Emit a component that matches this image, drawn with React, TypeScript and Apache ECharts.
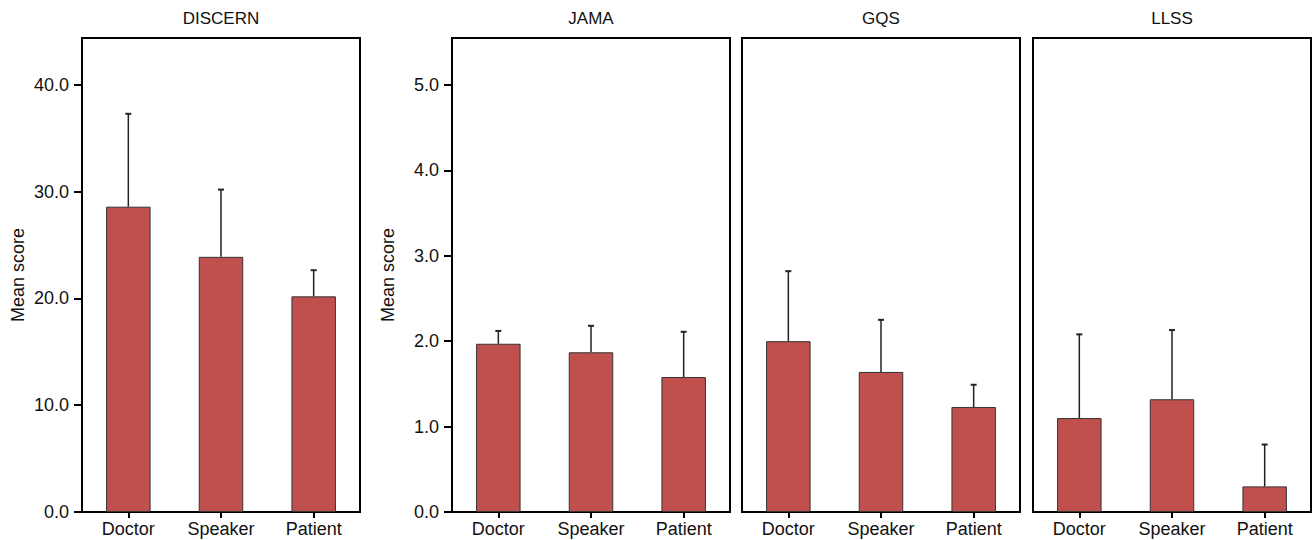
import React, { useEffect, useRef } from "react";
import * as echarts from "echarts";

const categories = ["Doctor", "Speaker", "Patient"];
const panelTitles = ["DISCERN", "JAMA", "GQS", "LLSS"];

const discernMean = [28.6, 23.9, 20.2];
const discernSd = [8.7, 6.3, 2.45];
const jamaMean = [1.97, 1.87, 1.58];
const jamaSd = [0.15, 0.31, 0.53];
const gqsMean = [2.0, 1.64, 1.23];
const gqsSd = [0.82, 0.61, 0.26];
const llssMean = [1.1, 1.32, 0.3];
const llssSd = [0.98, 0.81, 0.49];

const discernTicks = [0, 10, 20, 30, 40];
const smallTicks = [0, 1, 2, 3, 4, 5];

const FONT = "'Liberation Sans', Arial, Helvetica, sans-serif";
const FS = 18;

export default function App() {
  const ref = useRef<HTMLDivElement>(null);

  useEffect(() => {
    if (!ref.current) return;
    const chart = echarts.init(ref.current, undefined, { renderer: "svg" });

    const means = [discernMean, jamaMean, gqsMean, llssMean];
    const sds = [discernSd, jamaSd, gqsSd, llssSd];
    const lefts = [82, 452, 742, 1033];
    const W = 278;

    const grids = lefts.map((l) => ({
      left: l,
      top: 38,
      width: W,
      height: 474,
      show: true,
      borderColor: "#000",
      borderWidth: 2,
      backgroundColor: "transparent",
    }));

    const xAxes = lefts.map((_, i) => ({
      type: "category",
      gridIndex: i,
      data: categories,
      axisLine: { show: true, lineStyle: { color: "#000", width: 2 } },
      axisTick: { show: true, alignWithLabel: true, length: 6, lineStyle: { color: "#000", width: 2 } },
      axisLabel: { fontSize: FS, color: "#111", margin: 8, fontFamily: FONT },
      splitLine: { show: false },
    }));

    const yAxes = lefts.map((_, i) => {
      const isDiscern = i === 0;
      const ticks = isDiscern ? discernTicks : smallTicks;
      const showLabels = i <= 1;
      return {
        type: "value",
        gridIndex: i,
        min: 0,
        max: isDiscern ? 44.4 : 5.55,
        interval: isDiscern ? 10 : 1,
        name: showLabels ? "Mean score" : "",
        nameLocation: "middle",
        nameGap: 55,
        nameTextStyle: { fontSize: FS, color: "#111", fontFamily: FONT },
        axisLine: { show: true, lineStyle: { color: "#000", width: 2 } },
        axisTick: {
          show: showLabels,
          length: 8,
          lineStyle: { color: "#000", width: 2 },
          customValues: ticks,
        },
        axisLabel: {
          show: showLabels,
          fontSize: FS,
          color: "#111",
          margin: 13,
          fontFamily: FONT,
          customValues: ticks,
          formatter: (v: number) => v.toFixed(1),
        },
        splitLine: { show: false },
      };
    });

    const series: any[] = [];
    means.forEach((m, i) => {
      series.push({
        type: "bar",
        xAxisIndex: i,
        yAxisIndex: i,
        data: m,
        barWidth: "48%",
        itemStyle: { color: "#C0504D", borderColor: "#333", borderWidth: 1 },
        z: 2,
      });
      series.push({
        type: "custom",
        xAxisIndex: i,
        yAxisIndex: i,
        data: m.map((v, k) => [k, v, v + sds[i][k]]),
        z: 3,
        renderItem: (params: any, api: any) => {
          const base = api.coord([api.value(0), api.value(1)]);
          const top = api.coord([api.value(0), api.value(2)]);
          const style = { stroke: "#222", lineWidth: 1.5 };
          return {
            type: "group",
            children: [
              { type: "line", shape: { x1: base[0], y1: base[1], x2: top[0], y2: top[1] }, style },
              { type: "line", shape: { x1: top[0] - 3, y1: top[1], x2: top[0] + 3, y2: top[1] }, style: { stroke: "#222", lineWidth: 2 } },
            ],
          };
        },
      });
    });

    const titles = panelTitles.map((t, i) => ({
      text: t,
      left: lefts[i] + W / 2,
      top: 10,
      padding: 0,
      textAlign: "center",
      textStyle: { fontSize: 17, fontWeight: "normal", color: "#111", fontFamily: FONT },
    }));

    chart.setOption({
      animation: false,
      backgroundColor: "#fff",
      textStyle: { fontFamily: FONT },
      title: titles,
      grid: grids,
      xAxis: xAxes,
      yAxis: yAxes,
      series,
    });

    return () => chart.dispose();
  }, []);

  return (
    <div
      ref={ref}
      style={{ position: "fixed", left: 0, top: 0, width: 1314, height: 540 }}
    />
  );
}
